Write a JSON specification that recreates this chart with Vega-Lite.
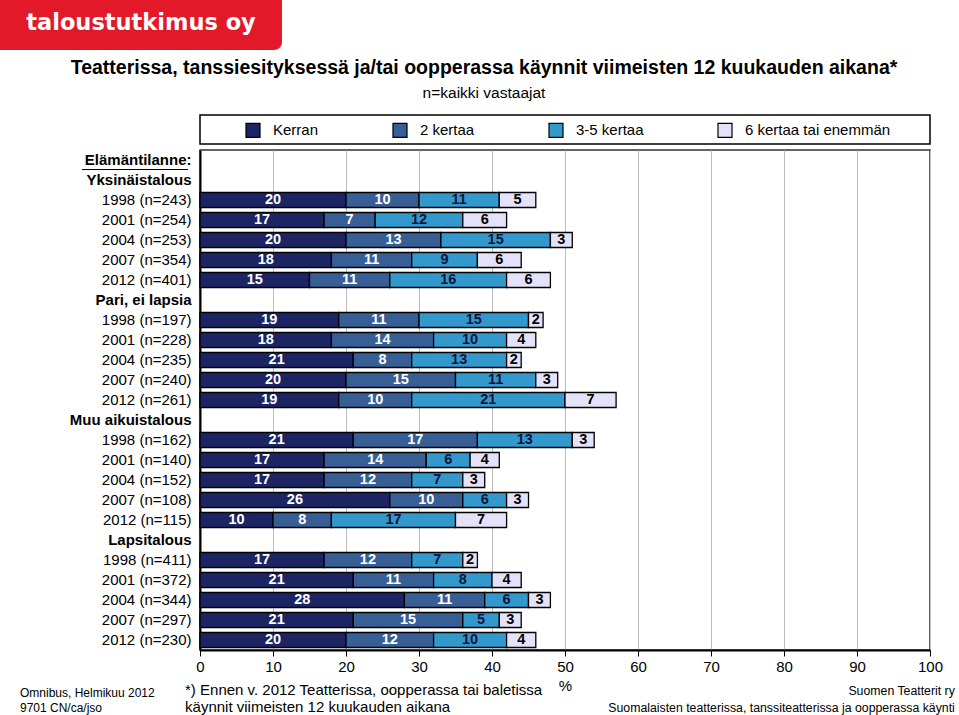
{
  "$schema": "https://vega.github.io/schema/vega-lite/v6.json",
  "autosize": "none",
  "width": 730,
  "height": 500,
  "padding": {"left": 200, "top": 150, "right": 29, "bottom": 65},
  "background": "white",
  "title": {
    "text": "Teatterissa, tanssiesityksessä ja/tai oopperassa käynnit viimeisten 12 kuukauden aikana*",
    "subtitle": "n=kaikki vastaajat",
    "anchor": "middle",
    "frame": "group",
    "dx": -81,
    "offset": -102,
    "font": "Liberation Sans",
    "fontSize": 19.5,
    "fontWeight": "bold",
    "color": "black",
    "subtitleFont": "Liberation Sans",
    "subtitleFontSize": 15.5,
    "subtitleColor": "black",
    "subtitlePadding": 7
  },
  "config": {
    "font": "Liberation Sans",
    "view": {"stroke": "#333333", "strokeWidth": 1.5}
  },
  "resolve": {"scale": {"x": "independent", "y": "independent"}},
  "layer": [
    {
      "data": {"values": [{}]},
      "mark": {"type": "rect", "fill": "white", "stroke": "black", "strokeWidth": 1.5},
      "encoding": {
        "x": {"datum": 0, "type": "quantitative", "scale": {"domain": [0, 100], "nice": false, "zero": false}, "axis": null},
        "x2": {"datum": 100},
        "y": {"datum": 107, "type": "quantitative", "scale": {"domain": [0, 100], "nice": false, "zero": false}, "axis": null},
        "y2": {"datum": 101.2}
      }
    },
    {
      "data": {"values": [
        {"row": "1998 (n=243)", "cat": "Kerran", "v": 20}, {"row": "1998 (n=243)", "cat": "2 kertaa", "v": 10}, {"row": "1998 (n=243)", "cat": "3-5 kertaa", "v": 11}, {"row": "1998 (n=243)", "cat": "6 kertaa tai enemmän", "v": 5},
        {"row": "2001 (n=254)", "cat": "Kerran", "v": 17}, {"row": "2001 (n=254)", "cat": "2 kertaa", "v": 7}, {"row": "2001 (n=254)", "cat": "3-5 kertaa", "v": 12}, {"row": "2001 (n=254)", "cat": "6 kertaa tai enemmän", "v": 6},
        {"row": "2004 (n=253)", "cat": "Kerran", "v": 20}, {"row": "2004 (n=253)", "cat": "2 kertaa", "v": 13}, {"row": "2004 (n=253)", "cat": "3-5 kertaa", "v": 15}, {"row": "2004 (n=253)", "cat": "6 kertaa tai enemmän", "v": 3},
        {"row": "2007 (n=354)", "cat": "Kerran", "v": 18}, {"row": "2007 (n=354)", "cat": "2 kertaa", "v": 11}, {"row": "2007 (n=354)", "cat": "3-5 kertaa", "v": 9}, {"row": "2007 (n=354)", "cat": "6 kertaa tai enemmän", "v": 6},
        {"row": "2012 (n=401)", "cat": "Kerran", "v": 15}, {"row": "2012 (n=401)", "cat": "2 kertaa", "v": 11}, {"row": "2012 (n=401)", "cat": "3-5 kertaa", "v": 16}, {"row": "2012 (n=401)", "cat": "6 kertaa tai enemmän", "v": 6},
        {"row": "1998 (n=197)", "cat": "Kerran", "v": 19}, {"row": "1998 (n=197)", "cat": "2 kertaa", "v": 11}, {"row": "1998 (n=197)", "cat": "3-5 kertaa", "v": 15}, {"row": "1998 (n=197)", "cat": "6 kertaa tai enemmän", "v": 2},
        {"row": "2001 (n=228)", "cat": "Kerran", "v": 18}, {"row": "2001 (n=228)", "cat": "2 kertaa", "v": 14}, {"row": "2001 (n=228)", "cat": "3-5 kertaa", "v": 10}, {"row": "2001 (n=228)", "cat": "6 kertaa tai enemmän", "v": 4},
        {"row": "2004 (n=235)", "cat": "Kerran", "v": 21}, {"row": "2004 (n=235)", "cat": "2 kertaa", "v": 8}, {"row": "2004 (n=235)", "cat": "3-5 kertaa", "v": 13}, {"row": "2004 (n=235)", "cat": "6 kertaa tai enemmän", "v": 2},
        {"row": "2007 (n=240)", "cat": "Kerran", "v": 20}, {"row": "2007 (n=240)", "cat": "2 kertaa", "v": 15}, {"row": "2007 (n=240)", "cat": "3-5 kertaa", "v": 11}, {"row": "2007 (n=240)", "cat": "6 kertaa tai enemmän", "v": 3},
        {"row": "2012 (n=261)", "cat": "Kerran", "v": 19}, {"row": "2012 (n=261)", "cat": "2 kertaa", "v": 10}, {"row": "2012 (n=261)", "cat": "3-5 kertaa", "v": 21}, {"row": "2012 (n=261)", "cat": "6 kertaa tai enemmän", "v": 7},
        {"row": "1998 (n=162)", "cat": "Kerran", "v": 21}, {"row": "1998 (n=162)", "cat": "2 kertaa", "v": 17}, {"row": "1998 (n=162)", "cat": "3-5 kertaa", "v": 13}, {"row": "1998 (n=162)", "cat": "6 kertaa tai enemmän", "v": 3},
        {"row": "2001 (n=140)", "cat": "Kerran", "v": 17}, {"row": "2001 (n=140)", "cat": "2 kertaa", "v": 14}, {"row": "2001 (n=140)", "cat": "3-5 kertaa", "v": 6}, {"row": "2001 (n=140)", "cat": "6 kertaa tai enemmän", "v": 4},
        {"row": "2004 (n=152)", "cat": "Kerran", "v": 17}, {"row": "2004 (n=152)", "cat": "2 kertaa", "v": 12}, {"row": "2004 (n=152)", "cat": "3-5 kertaa", "v": 7}, {"row": "2004 (n=152)", "cat": "6 kertaa tai enemmän", "v": 3},
        {"row": "2007 (n=108)", "cat": "Kerran", "v": 26}, {"row": "2007 (n=108)", "cat": "2 kertaa", "v": 10}, {"row": "2007 (n=108)", "cat": "3-5 kertaa", "v": 6}, {"row": "2007 (n=108)", "cat": "6 kertaa tai enemmän", "v": 3},
        {"row": "2012 (n=115)", "cat": "Kerran", "v": 10}, {"row": "2012 (n=115)", "cat": "2 kertaa", "v": 8}, {"row": "2012 (n=115)", "cat": "3-5 kertaa", "v": 17}, {"row": "2012 (n=115)", "cat": "6 kertaa tai enemmän", "v": 7},
        {"row": "1998 (n=411)", "cat": "Kerran", "v": 17}, {"row": "1998 (n=411)", "cat": "2 kertaa", "v": 12}, {"row": "1998 (n=411)", "cat": "3-5 kertaa", "v": 7}, {"row": "1998 (n=411)", "cat": "6 kertaa tai enemmän", "v": 2},
        {"row": "2001 (n=372)", "cat": "Kerran", "v": 21}, {"row": "2001 (n=372)", "cat": "2 kertaa", "v": 11}, {"row": "2001 (n=372)", "cat": "3-5 kertaa", "v": 8}, {"row": "2001 (n=372)", "cat": "6 kertaa tai enemmän", "v": 4},
        {"row": "2004 (n=344)", "cat": "Kerran", "v": 28}, {"row": "2004 (n=344)", "cat": "2 kertaa", "v": 11}, {"row": "2004 (n=344)", "cat": "3-5 kertaa", "v": 6}, {"row": "2004 (n=344)", "cat": "6 kertaa tai enemmän", "v": 3},
        {"row": "2007 (n=297)", "cat": "Kerran", "v": 21}, {"row": "2007 (n=297)", "cat": "2 kertaa", "v": 15}, {"row": "2007 (n=297)", "cat": "3-5 kertaa", "v": 5}, {"row": "2007 (n=297)", "cat": "6 kertaa tai enemmän", "v": 3},
        {"row": "2012 (n=230)", "cat": "Kerran", "v": 20}, {"row": "2012 (n=230)", "cat": "2 kertaa", "v": 12}, {"row": "2012 (n=230)", "cat": "3-5 kertaa", "v": 10}, {"row": "2012 (n=230)", "cat": "6 kertaa tai enemmän", "v": 4}
      ]},
      "transform": [{"stack": "v", "groupby": ["row"], "as": ["x0", "x1"], "offset": "zero"}],
      "encoding": {
        "y": {
          "field": "row", "type": "nominal",
          "scale": {
            "domain": ["Elämäntilanne:", "Yksinäistalous", "1998 (n=243)", "2001 (n=254)", "2004 (n=253)", "2007 (n=354)", "2012 (n=401)", "Pari, ei lapsia", "1998 (n=197)", "2001 (n=228)", "2004 (n=235)", "2007 (n=240)", "2012 (n=261)", "Muu aikuistalous", "1998 (n=162)", "2001 (n=140)", "2004 (n=152)", "2007 (n=108)", "2012 (n=115)", "Lapsitalous", "1998 (n=411)", "2001 (n=372)", "2004 (n=344)", "2007 (n=297)", "2012 (n=230)"],
            "paddingInner": 0.25, "paddingOuter": 0.125
          },
          "axis": {
            "title": null, "ticks": false, "domain": true, "domainColor": "black", "domainWidth": 2,
            "labelFontSize": 15, "labelColor": "black", "labelPadding": 9, "labelLimit": 200,
            "labelFontWeight": {"condition": {"test": "indexof(['Elämäntilanne:','Yksinäistalous','Pari, ei lapsia','Muu aikuistalous','Lapsitalous'], datum.value) >= 0", "value": "bold"}, "value": "normal"}
          }
        }
      },
      "layer": [
        {
          "mark": {"type": "bar", "stroke": "black", "strokeWidth": 1.3},
          "encoding": {
            "x": {
              "field": "x0", "type": "quantitative",
              "scale": {"domain": [0, 100], "nice": false, "zero": false},
              "axis": {
                "title": "%", "titleFontSize": 15, "titleFontWeight": "normal", "titleColor": "black", "titlePadding": 4,
                "values": [0, 10, 20, 30, 40, 50, 60, 70, 80, 90, 100], "labelFlush": false,
                "grid": true, "gridColor": "#bdbdbd", "gridWidth": 1,
                "ticks": true, "tickSize": 6, "tickColor": "black", "tickWidth": 1,
                "domain": true, "domainColor": "black", "domainWidth": 2,
                "labelFontSize": 15, "labelColor": "black", "labelPadding": 3
              }
            },
            "x2": {"field": "x1"},
            "color": {
              "field": "cat", "type": "nominal",
              "scale": {"domain": ["Kerran", "2 kertaa", "3-5 kertaa", "6 kertaa tai enemmän"], "range": ["#1c2464", "#385e96", "#3399cc", "#e4e2f8"]},
              "legend": {
                "orient": "none", "legendX": 45, "legendY": -28, "direction": "horizontal",
                "title": null, "padding": 0,
                "symbolType": "square", "symbolSize": 196, "symbolStrokeColor": "black", "symbolStrokeWidth": 1.2,
                "labelFontSize": 15, "labelColor": "black", "labelOffset": 12, "columnPadding": 71, "labelLimit": 300
              }
            }
          }
        },
        {
          "mark": {"type": "text", "fontWeight": "bold", "fontSize": 14.5, "align": "center", "baseline": "middle"},
          "encoding": {
            "x": {
              "field": "v", "type": "quantitative", "stack": "zero", "bandPosition": 0.5,
              "scale": {"domain": [0, 100], "nice": false, "zero": false},
              "axis": {
                "title": "%", "titleFontSize": 15, "titleFontWeight": "normal", "titleColor": "black", "titlePadding": 4,
                "values": [0, 10, 20, 30, 40, 50, 60, 70, 80, 90, 100], "labelFlush": false,
                "grid": true, "gridColor": "#bdbdbd", "gridWidth": 1,
                "ticks": true, "tickSize": 6, "tickColor": "black", "tickWidth": 1,
                "domain": true, "domainColor": "black", "domainWidth": 2,
                "labelFontSize": 15, "labelColor": "black", "labelPadding": 3
              }
            },
            "detail": {"field": "cat", "type": "nominal"},
            "order": {"field": "x0", "type": "quantitative"},
            "text": {"field": "v", "type": "quantitative"},
            "color": {
              "condition": [
                {"test": "datum.cat === '3-5 kertaa'", "value": "#14143c"},
                {"test": "datum.cat === '6 kertaa tai enemmän'", "value": "black"}
              ],
              "value": "white"
            }
          }
        }
      ]
    },
    {
      "data": {"values": [{}]},
      "mark": {"type": "rect", "color": "#e31829", "cornerRadiusBottomRight": 8},
      "encoding": {
        "x": {"datum": -28, "type": "quantitative", "scale": {"domain": [0, 100], "nice": false, "zero": false}, "axis": null},
        "x2": {"datum": 11.23},
        "y": {"datum": 130, "type": "quantitative", "scale": {"domain": [0, 100], "nice": false, "zero": false}, "axis": null},
        "y2": {"datum": 120}
      }
    },
    {
      "data": {"values": [{}]},
      "mark": {"type": "text", "text": "taloustutkimus oy", "font": "DejaVu Sans", "fontWeight": "bold", "fontSize": 22.5, "color": "white", "align": "center", "baseline": "alphabetic"},
      "encoding": {
        "x": {"datum": -8.08, "type": "quantitative", "scale": {"domain": [0, 100], "nice": false, "zero": false}, "axis": null},
        "y": {"datum": 124, "type": "quantitative", "scale": {"domain": [0, 100], "nice": false, "zero": false}, "axis": null}
      }
    },
    {
      "data": {"values": [{}]},
      "mark": {"type": "rule", "color": "black", "strokeWidth": 1},
      "encoding": {
        "x": {"datum": -16.16, "type": "quantitative", "scale": {"domain": [0, 100], "nice": false, "zero": false}, "axis": null},
        "x2": {"datum": -1.64},
        "y": {"datum": 96.1, "type": "quantitative", "scale": {"domain": [0, 100], "nice": false, "zero": false}, "axis": null}
      }
    },
    {
      "data": {"values": [{}]},
      "mark": {"type": "text", "text": ["Omnibus, Helmikuu 2012", "9701 CN/ca/jso"], "font": "Liberation Sans", "fontSize": 12, "lineHeight": 15, "color": "black", "align": "left", "baseline": "alphabetic"},
      "encoding": {
        "x": {"datum": -24.66, "type": "quantitative", "scale": {"domain": [0, 100], "nice": false, "zero": false}, "axis": null},
        "y": {"datum": -9.4, "type": "quantitative", "scale": {"domain": [0, 100], "nice": false, "zero": false}, "axis": null}
      }
    },
    {
      "data": {"values": [{}]},
      "mark": {"type": "text", "text": ["*) Ennen v. 2012 Teatterissa, oopperassa tai baletissa", "käynnit viimeisten 12 kuukauden aikana"], "font": "Liberation Sans", "fontSize": 15, "lineHeight": 17, "color": "black", "align": "left", "baseline": "alphabetic"},
      "encoding": {
        "x": {"datum": -2.05, "type": "quantitative", "scale": {"domain": [0, 100], "nice": false, "zero": false}, "axis": null},
        "y": {"datum": -9.0, "type": "quantitative", "scale": {"domain": [0, 100], "nice": false, "zero": false}, "axis": null}
      }
    },
    {
      "data": {"values": [{}]},
      "mark": {"type": "text", "text": ["Suomen Teatterit ry", "Suomalaisten teatterissa, tanssiteatterissa ja oopperassa käynti"], "font": "Liberation Sans", "fontSize": 12.3, "lineHeight": 17, "color": "black", "align": "right", "baseline": "alphabetic"},
      "encoding": {
        "x": {"datum": 103.4, "type": "quantitative", "scale": {"domain": [0, 100], "nice": false, "zero": false}, "axis": null},
        "y": {"datum": -9.0, "type": "quantitative", "scale": {"domain": [0, 100], "nice": false, "zero": false}, "axis": null}
      }
    }
  ]
}
